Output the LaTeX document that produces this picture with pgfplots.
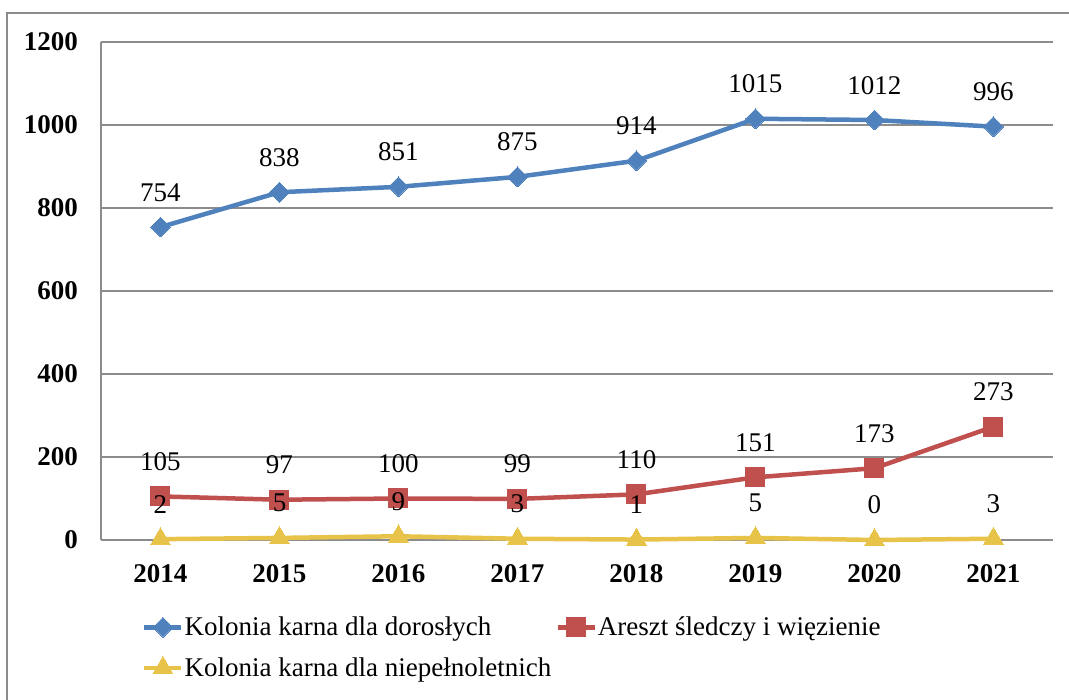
\documentclass[border=0pt]{standalone}
\usepackage{fontspec}
\setmainfont{Liberation Serif}
\usepackage{pgfplots}
\pgfplotsset{compat=1.18}
\definecolor{cblue}{HTML}{4F81BD}
\definecolor{cred}{HTML}{C0504D}
\definecolor{cyel}{HTML}{E8C34A}
\definecolor{cgrid}{HTML}{8C8C8C}
\newcommand\fs{\fontsize{27}{32}\selectfont}

\begin{document}
\begin{tikzpicture}[x=1pt,y=1pt,font=\fs]
% outer frame (left and top only visible)
\draw[cgrid, line width=1.5pt] (7,0) -- (7,687) -- (1069,687);
\begin{axis}[
    at={(101pt,160pt)}, anchor=south west,
    scale only axis, width=952pt, height=498pt,
    xmin=-0.5, xmax=7.5, ymin=0, ymax=1200,
    xtick={0,1,2,3,4,5,6,7},
    xticklabels={2014,2015,2016,2017,2018,2019,2020,2021},
    ytick={0,200,400,600,800,1000,1200},
    ymajorgrids, major grid style={cgrid, line width=1.5pt},
    axis lines*=left, axis line style={cgrid, line width=1.5pt},
    major tick length=0pt,
    tick label style={font=\fs\bfseries, inner sep=0pt},
    yticklabel style={anchor=east, xshift=-23pt},
    xticklabel style={anchor=north, yshift=-24pt},
    /pgf/number format/assume math mode=true,
    /pgf/number format/1000 sep={},
    clip=false,
    point meta=explicit symbolic,
    nodes near coords,
    every node near coord/.append style={font=\fs, anchor=base, yshift=26pt, inner sep=0pt, text=black},
    legend columns=2,
    legend cell align=left,
    legend style={at={(0.0431,-0.1525)}, anchor=north west, draw=none, fill=none,
        font=\fs, inner sep=0pt, row sep=18pt, nodes={inner sep=1pt},
        /tikz/every even column/.append style={column sep=3pt}},
    legend image code/.code={\draw[mark repeat=2, mark phase=2, #1] plot coordinates {(0pt,0pt) (18.5pt,0pt) (37pt,0pt)};},
]
% Kolonia karna dla dorosłych
\addplot[cblue, line width=4.5pt, mark=square*, mark size=7pt,
    mark options={rotate=45, line width=0pt, fill=cblue}] coordinates {
    (0,754) [754] (1,838) [838] (2,851) [851] (3,875) [875]
    (4,914) [914] (5,1015) [1015] (6,1012) [1012] (7,996) [996]
};
\addlegendentry{Kolonia karna dla dorosłych}
% Areszt śledczy i więzienie
\addplot[cred, line width=4.5pt, mark=square*, mark size=9.5pt,
    mark options={line width=0pt, fill=cred}] coordinates {
    (0,105) [105] (1,97) [97] (2,100) [100] (3,99) [99]
    (4,110) [110] (5,151) [151] (6,173) [173] (7,273) [273]
};
\addlegendentry{Areszt śledczy i więzienie}
% Kolonia karna dla niepełnoletnich
\addplot[cyel, line width=4.5pt, mark=triangle*, mark size=11.5pt,
    mark options={line width=0pt, fill=cyel}] coordinates {
    (0,2) [2] (1,5) [5] (2,9) [9] (3,3) [3]
    (4,1) [1] (5,5) [5] (6,0) [0] (7,3) [3]
};
\addlegendentry{Kolonia karna dla niepełnoletnich}
\end{axis}
\pgfresetboundingbox
\useasboundingbox (0,0) rectangle (1069,700);
\end{tikzpicture}
\end{document}
